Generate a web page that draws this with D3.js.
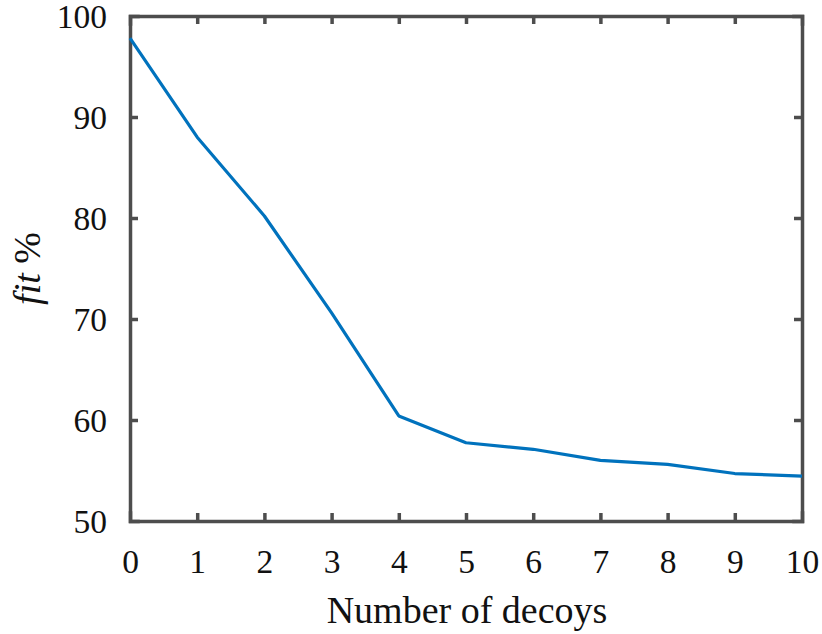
<!DOCTYPE html>
<html>
<head>
<meta charset="utf-8">
<script src="https://cdn.jsdelivr.net/npm/d3@7"></script>
<style>
  html, body { margin: 0; padding: 0; background: #fff; }
  svg { display: block; }
  text { font-family: "Liberation Serif", "Times New Roman", serif; fill: #111; }
</style>
</head>
<body>
<svg id="chart" width="822" height="634"></svg>
<script>
// Number of decoys vs. fit percentage
const decoys = [0, 1, 2, 3, 4, 5, 6, 7, 8, 9, 10];
const fitPercent = [97.8, 88.0, 80.2, 70.6, 60.4, 57.75, 57.1, 56.0, 55.6, 54.7, 54.45];
const xTicks = [0, 1, 2, 3, 4, 5, 6, 7, 8, 9, 10];
const yTicks = [50, 60, 70, 80, 90, 100];

const svg = d3.select("#chart");
const margin = { left: 130, top: 16, right: 20, bottom: 113 };
const W = 822, H = 634;
const axisColor = "#4d4d4d";

const x = d3.scaleLinear().domain([0, 10]).range([margin.left, W - margin.right]);
const y = d3.scaleLinear().domain([50, 100]).range([H - margin.bottom, margin.top]);

const tickLen = 8;
const tickFont = 33.5;
const labelFont = 38;

// Bottom axis: ticks pointing inward
const xAxis = svg.append("g")
  .attr("transform", `translate(0,${y(50)})`)
  .call(d3.axisBottom(x).tickValues(xTicks).tickSize(-tickLen).tickPadding(28).tickFormat(d3.format("d")));
// Left axis
const yAxis = svg.append("g")
  .attr("transform", `translate(${x(0)},0)`)
  .call(d3.axisLeft(y).tickValues(yTicks).tickSize(-tickLen).tickPadding(23).tickFormat(d3.format("d")));
// Top and right box edges with inward ticks
const xAxisTop = svg.append("g")
  .attr("transform", `translate(0,${y(100)})`)
  .call(d3.axisTop(x).tickValues(xTicks).tickSize(-tickLen).tickFormat(""));
const yAxisRight = svg.append("g")
  .attr("transform", `translate(${x(10)},0)`)
  .call(d3.axisRight(y).tickValues(yTicks).tickSize(-tickLen).tickFormat(""));

[xAxis, yAxis, xAxisTop, yAxisRight].forEach(g => {
  g.select(".domain").attr("stroke", axisColor).attr("stroke-width", 3.5)
    .attr("stroke-linecap", "square");
  g.selectAll(".tick line").attr("stroke", axisColor).attr("stroke-width", 3.5);
  g.selectAll(".tick text")
    .style("font-family", '"Liberation Serif", serif')
    .style("font-size", tickFont + "px")
    .attr("fill", "#111");
});
// Corner ticks coincide with the box edges
xAxis.selectAll(".tick").filter(d => d === 0 || d === 10).select("line").remove();
xAxisTop.selectAll(".tick").filter(d => d === 0 || d === 10).select("line").remove();
yAxis.selectAll(".tick").filter(d => d === 50 || d === 100).select("line").remove();
yAxisRight.selectAll(".tick").filter(d => d === 50 || d === 100).select("line").remove();
xAxis.selectAll(".tick text").attr("dy", "0.71em");
yAxis.selectAll(".tick text").attr("dy", "0.33em");

// Data line
const line = d3.line().x((d, i) => x(decoys[i])).y(d => y(d));
svg.append("path")
  .datum(fitPercent)
  .attr("d", line)
  .attr("fill", "none")
  .attr("stroke", "#0072BD")
  .attr("stroke-width", 3.2)
  .attr("stroke-linejoin", "round");

// Axis titles
svg.append("text")
  .attr("x", (x(0) + x(10)) / 2 + 1)
  .attr("y", 623)
  .attr("text-anchor", "middle")
  .style("font-size", labelFont + "px")
  .text("Number of decoys");

const yl = svg.append("text")
  .attr("transform", `translate(40,${(y(50) + y(100)) / 2}) rotate(-90)`)
  .attr("text-anchor", "middle")
  .style("font-size", labelFont + "px");
yl.append("tspan").style("font-style", "italic").text("fit");
yl.append("tspan").attr("dx", "0.25em").text("%");
</script>
</body>
</html>
